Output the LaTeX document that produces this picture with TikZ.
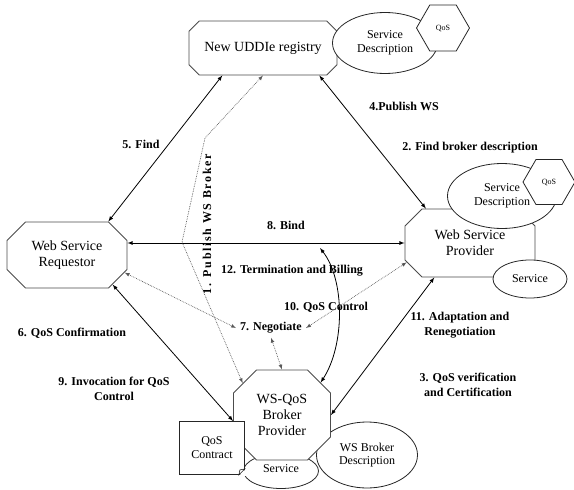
\documentclass[tikz,border=0pt]{standalone}
\usepackage{fontspec}
\setmainfont{Liberation Serif}
\usetikzlibrary{shapes.misc,shapes.geometric}
\tikzstyle{octy}=[chamfered rectangle,chamfered rectangle xsep=16pt,draw=gray!60!black,line width=0.9pt,fill=white,align=center,font=\fontsize{14}{16}\selectfont,inner sep=1pt]
\tikzstyle{ovaly}=[ellipse,draw=gray!30!black,line width=0.8pt,fill=white,align=center,inner sep=0pt,font=\fontsize{12}{13.5}\selectfont]
\tikzstyle{hexy}=[regular polygon,regular polygon sides=6,draw=gray!30!black,line width=0.8pt,fill=white,inner sep=0pt,font=\fontsize{8}{9}\selectfont]
\tikzstyle{labely}=[align=center,font=\bfseries\fontsize{12}{15}\selectfont,inner sep=1pt]
\tikzstyle{arry}=[<->,>=latex,line width=0.8pt]
\tikzstyle{doty}=[<->,>=latex,densely dotted,gray!70!black,line width=0.7pt]

\begin{document}
\begin{tikzpicture}[x=1pt,y=-1pt]
    \useasboundingbox (0,0) rectangle (574,490);
    % registry
    \node[octy,chamfered rectangle xsep=13pt,minimum width=148pt,minimum height=54pt] (uddi) at (263,48) {New UDDIe registry};
    \node[ovaly,minimum width=105pt,minimum height=61pt] (uddidesc) at (385,43) {Service\\Description};
    \node[hexy,minimum size=53pt] (uddiqos) at (443,28) {QoS};
    % provider
    \node[octy,chamfered rectangle xsep=20pt,minimum width=130pt,minimum height=68pt] (prov) at (470,243) {Web Service\\Provider};
    \node[ovaly,minimum width=109pt,minimum height=65pt] (provdesc) at (502,196) {Service\\Description};
    \node[hexy,minimum size=52pt] (provqos) at (549,182) {QoS};
    \node[ovaly,minimum width=74pt,minimum height=38pt] (provsvc) at (530,279) {Service};
    % broker
    \node[ovaly,minimum width=75pt,minimum height=35pt] (brokersvc) at (281,471) {\raisebox{4pt}{Service}};
    \node[ovaly,minimum width=101pt,minimum height=66pt] (brokerdesc) at (367,455) {WS Broker\\Description};
    \node[octy,chamfered rectangle xsep=20pt,minimum width=97pt,minimum height=90pt] (broker) at (282,415) {WS-QoS\\Broker\\Provider};
    \node[rectangle,draw=gray!30!black,line width=0.8pt,fill=white,align=center,font=\fontsize{12}{14}\selectfont,minimum width=65pt,minimum height=53pt] (contract) at (212,448) {QoS\\Contract};
    \fill[white] ([xshift=-6pt,yshift=-1pt]contract.south east) -- ([xshift=1pt,yshift=-1pt]contract.south east) -- ([xshift=1pt,yshift=6pt]contract.south east) -- cycle;
    \draw[gray!30!black,line width=0.6pt] ([xshift=-6pt]contract.south east) -- ([yshift=6pt]contract.south east) -- ([xshift=-5pt,yshift=5pt]contract.south east) -- cycle;
    % requestor
    \node[octy,chamfered rectangle xsep=20pt,minimum width=120pt,minimum height=66pt] (reqs) at (67,255) {Web Service\\Requestor};

    \node[labely] (lpubws) at (404,106) {4.Publish WS};
    \node[labely] (lfindbroker) at (470,148) {2. Find broker description};
    \node[labely] (lfind) at (141,144) {5. Find};
    \node[labely,rotate=90,font=\bfseries\fontsize{12}{15}\selectfont\addfontfeature{LetterSpace=14}] (lpubbroker) at (207,224) {1. Publish WS Broker};
    \node[labely] (lbind) at (286,225) {8. Bind};
    \node[labely] (lterm) at (292,271) {12. Termination and Billing};
    \node[labely] (lctrl) at (326,307) {10. QoS Control};
    \node[labely,inner sep=4pt] (neg) at (271,328) {7. Negotiate};
    \node[labely] (ladapt) at (460,325) {11. Adaptation and\\Renegotiation};
    \node[labely] (lconf) at (72,333) {6. QoS Confirmation};
    \node[labely] (linvoc) at (114,389) {9. Invocation for QoS\\Control};
    \node[labely] (lverif) at (468,385) {3. QoS verification\\and Certification};

    \coordinate (bend1) at (182,242);
    \coordinate (bend2) at (205,138);
    \coordinate (ctl) at (320,248);

    \foreach \from/\to in {uddi.214/reqs.39,uddi.334/prov.142,reqs.327/broker.187,prov.224/broker.east}
    \draw[arry] (\from) -- (\to);
    \draw[arry] (reqs.east |- prov.west) -- (prov.west);
    \draw[arry] (ctl) .. controls (345,280) and (345,345) .. (broker.40);

    \foreach \from/\to in {reqs.-17/neg.west,prov.197/neg.east,neg.south/broker.north}
    \draw[doty] (\from) -- (\to);
    \draw[doty] (broker.141) -- (bend1) -- (bend2) -- (uddi.south);
\end{tikzpicture}
\end{document}
